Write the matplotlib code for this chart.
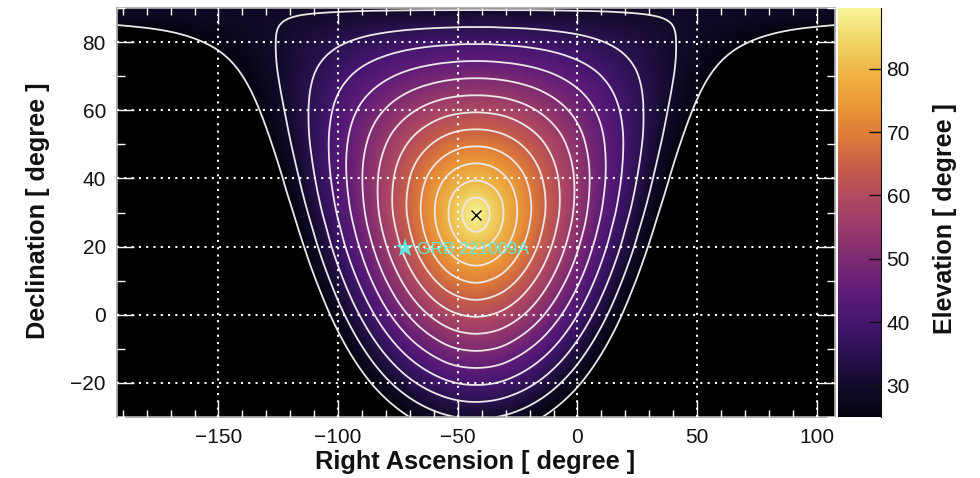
"""
Sky map of the elevation seen from the site, with GRB 221009A marked
"""

import matplotlib
matplotlib.use('Agg')
import matplotlib.pyplot as plt
import matplotlib.tri as tri
import numpy as np
from matplotlib.colors import LinearSegmentedColormap
from matplotlib.ticker import MultipleLocator

plt.rcParams['font.family'] = ['Liberation Sans', 'DejaVu Sans']

# zenith position and burst position (degree)
zenith_ra = -42.4
zenith_dec = 29.4
grb_ra = -72.0
grb_dec = 19.6
grb_name = 'GRB 221009A'

contour_levels = [25, 30, 35, 40, 45, 50, 55, 60, 65, 70, 75, 80, 85]

# colour bar read every 5 degree from 25 up to 90
palette = ['#050310', '#120a2a', '#2a1250', '#451670', '#5f1c78', '#7c2a72', '#983a6a',
           '#b14a60', '#c75e48', '#de7c38', '#eb9a38', '#eeb548', '#f0d668', '#f8f59a']

# degrees of right ascension away from the zenith, map is the same on both sides
ra_offset = [0, 5, 10, 15, 30, 45, 60, 75, 90, 105, 120, 135, 150]
dec_rows = [-30, -20, -10, 0, 10, 20, 25, 29.4, 35, 40, 50, 60, 70, 80, 85, 90]

# elevation (degree), one row per dec_rows entry, one column per ra_offset entry
elevation = [
    [30.7, 30.4, 29.8, 28.9, 24.1, 16.7, 7.6, -2.9, -14.2, -26.2, -38.5, -51.2, -64.0],
    [40.6, 40.4, 39.7, 38.5, 32.8, 24.3, 14.0, 2.5, -9.7, -22.3, -35.3, -48.3, -61.3],
    [50.6, 50.3, 49.5, 48.0, 41.1, 31.4, 20.1, 7.9, -4.9, -17.9, -30.9, -43.8, -55.9],
    [60.6, 60.2, 59.1, 57.3, 49.0, 38.0, 25.8, 13.0, 0.0, -13.0, -25.8, -38.0, -49.0],
    [70.6, 70.0, 68.5, 66.1, 55.9, 43.8, 30.9, 17.9, 4.9, -7.9, -20.1, -31.4, -41.1],
    [80.6, 79.6, 77.0, 73.5, 61.3, 48.3, 35.3, 22.3, 9.7, -2.5, -14.0, -24.3, -32.8],
    [85.6, 83.7, 80.1, 76.0, 63.0, 50.0, 37.0, 24.3, 12.0, 0.2, -10.8, -20.5, -28.4],
    [90.0, 85.6, 81.3, 76.9, 64.0, 51.1, 38.4, 25.9, 13.9, 2.6, -8.0, -17.2, -24.6],
    [84.4, 83.0, 79.9, 76.1, 64.1, 51.8, 39.7, 27.8, 16.4, 5.6, -4.3, -12.9, -19.7],
    [79.4, 78.6, 76.6, 73.8, 63.3, 51.9, 40.5, 29.2, 18.4, 8.2, -1.0, -9.0, -15.2],
    [69.4, 69.1, 68.1, 66.5, 59.4, 50.5, 41.0, 31.4, 22.1, 13.4, 5.5, -1.1, -6.3],
    [59.4, 59.2, 58.7, 57.8, 53.3, 47.2, 40.0, 32.5, 25.2, 18.2, 12.0, 6.7, 2.7],
    [49.4, 49.3, 49.0, 48.5, 46.0, 42.2, 37.6, 32.6, 27.5, 22.6, 18.2, 14.5, 11.7],
    [39.4, 39.4, 39.2, 39.0, 37.9, 36.2, 34.0, 31.5, 28.9, 26.4, 24.1, 22.1, 20.6],
    [34.4, 34.4, 34.3, 34.2, 33.7, 32.9, 31.8, 30.6, 29.3, 28.0, 26.8, 25.8, 25.0],
    [29.4, 29.4, 29.4, 29.4, 29.4, 29.4, 29.4, 29.4, 29.4, 29.4, 29.4, 29.4, 29.4],
]

W, H = 980, 478


def px_axes(left, top, right, bottom):
    return [left / W, 1 - bottom / H, (right - left) / W, (bottom - top) / H]


def main():
    half = np.array(elevation)
    offs = np.array(ra_offset, dtype=float)
    ra = zenith_ra + np.concatenate([-offs[:0:-1], offs])
    z = np.hstack([half[:, :0:-1], half])

    x, y = np.meshgrid(ra, dec_rows)
    tr = tri.Triangulation(x.ravel(), y.ravel())
    # refine in sin(elevation), the elevation itself has a sharp cone at the zenith
    fine_tr, fine_sin = tri.UniformTriRefiner(tr).refine_field(np.sin(np.radians(z.ravel())), subdiv=3)
    fine_z = np.degrees(np.arcsin(np.clip(fine_sin, -1, 1)))

    cmap = LinearSegmentedColormap.from_list('elev', palette, N=512)
    cmap.set_under('black')

    fig = plt.figure(figsize=(W / 100, H / 100), dpi=100)
    ax = fig.add_axes(px_axes(117, 8, 835, 417))
    cax = fig.add_axes(px_axes(838, 8, 881, 417))

    mesh = ax.tripcolor(fine_tr, fine_z, shading='gouraud', cmap=cmap, vmin=25, vmax=89.6)
    ax.tricontour(fine_tr, fine_z, levels=contour_levels, colors='#ece8e8', linewidths=1.3)

    ax.grid(which='major', color='white', linestyle=(0, (1, 2.5)), linewidth=1.5)
    ax.set_axisbelow(False)

    ax.plot(zenith_ra, zenith_dec, marker='x', color='black', markersize=7, markeredgewidth=1)
    ax.plot(grb_ra, grb_dec, marker='*', color='#62e8dc', markersize=14, markeredgewidth=0)
    ax.text(grb_ra + 5, grb_dec - 0.6, grb_name, color='#62e8dc', fontsize=12.5, va='center')

    ax.set_xlim(-192.4, 107.6)
    ax.set_ylim(-30, 90)
    ax.xaxis.set_major_locator(MultipleLocator(50))
    ax.xaxis.set_minor_locator(MultipleLocator(10))
    ax.yaxis.set_major_locator(MultipleLocator(20))
    ax.yaxis.set_minor_locator(MultipleLocator(10))
    ax.tick_params(axis='x', which='major', direction='in', top=True, length=11.5, width=1,
                   color='white', labelsize=15, labelcolor='#111111', pad=8)
    ax.tick_params(axis='x', which='minor', direction='in', top=True, length=5, width=1,
                   color='white')
    ax.tick_params(axis='y', which='major', direction='in', right=True, length=12, width=1,
                   color='white', labelsize=15, labelcolor='#111111', pad=8)
    ax.tick_params(axis='y', which='minor', direction='in', right=True, length=5.5, width=1,
                   color='white')
    for spine in ax.spines.values():
        spine.set_color('#a8a8a8')
        spine.set_linewidth(1.3)

    cb = fig.colorbar(mesh, cax=cax, extend='neither')
    cb.set_ticks([30, 40, 50, 60, 70, 80])
    cb.ax.tick_params(direction='in', length=9, width=1, color='#111111', labelsize=15,
                      labelcolor='#111111', pad=4)
    cb.outline.set_visible(False)
    cax.spines['right'].set_visible(True)
    cax.spines['right'].set_color('#111111')

    fig.text(475 / W, 1 - 462 / H, 'Right Ascension [ degree ]', fontsize=18.3, fontweight='bold',
             ha='center', va='center', color='#111111')
    fig.text(38 / W, 1 - 211 / H, 'Declination [ degree ]', fontsize=18.2, fontweight='bold',
             rotation=90, ha='center', va='center', color='#111111')
    fig.text(945 / W, 1 - 219 / H, 'Elevation [ degree ]', fontsize=18, fontweight='bold',
             rotation=90, ha='center', va='center', color='#111111')

    fig.savefig('out.png', dpi=100)


if __name__ == "__main__":
    main()
